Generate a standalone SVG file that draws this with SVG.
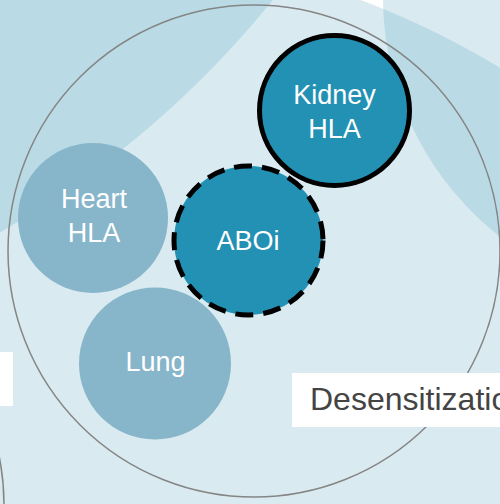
<svg xmlns="http://www.w3.org/2000/svg" width="500" height="504" viewBox="0 0 500 504">
  <style>
    .bg { fill: rgb(65,155,185); fill-opacity: 0.2; }
    .outline { fill: none; stroke: #858585; stroke-width: 1.5; }
    .pale { fill: #87b5ca; }
    .deep { fill: #2391b4; stroke: #000; stroke-width: 5; }
    .dashed { stroke-dasharray: 18 10; }
    .lbl { fill: #fff; font-family: "Liberation Sans", Arial, Helvetica, sans-serif; font-size: 27px; text-anchor: middle; }
    .box { fill: #fff; }
    .boxtxt { fill: #444; font-family: "Liberation Sans", Arial, Helvetica, sans-serif; font-size: 32px; }
  </style>
  <rect x="0" y="0" width="500" height="504" fill="#fff"/>
  <g id="background">
    <circle class="bg" cx="55" cy="806" r="862"/>
    <circle class="bg" cx="-480" cy="-607" r="967"/>
    <circle class="bg" cx="687" cy="-3" r="304"/>
    <circle class="outline" cx="-242" cy="505" r="246"/>
    <rect class="box" x="-40" y="352" width="53" height="54"/>
  </g>
  <g id="desensitization">
    <circle class="outline" cx="254" cy="251" r="246"/>
    <rect class="box" x="292" y="373" width="260" height="54"/>
    <text class="boxtxt" x="310" y="410">Desensitization</text>
  </g>
  <g id="connectors"></g>
  <g id="heart">
    <circle class="pale" cx="93" cy="218" r="75"/>
    <text class="lbl" x="94" y="208">Heart</text>
    <text class="lbl" x="94" y="242">HLA</text>
  </g>
  <g id="lung">
    <circle class="pale" cx="155" cy="363.5" r="76"/>
    <text class="lbl" x="155.5" y="371">Lung</text>
  </g>
  <g id="kidney">
    <circle class="deep" cx="334.5" cy="110.5" r="75"/>
    <text class="lbl" x="334.5" y="104">Kidney</text>
    <text class="lbl" x="334.5" y="138">HLA</text>
  </g>
  <g id="aboi">
    <circle class="deep dashed" cx="248.5" cy="240.5" r="74.5"/>
    <text class="lbl" x="248" y="250">ABOi</text>
  </g>
</svg>
